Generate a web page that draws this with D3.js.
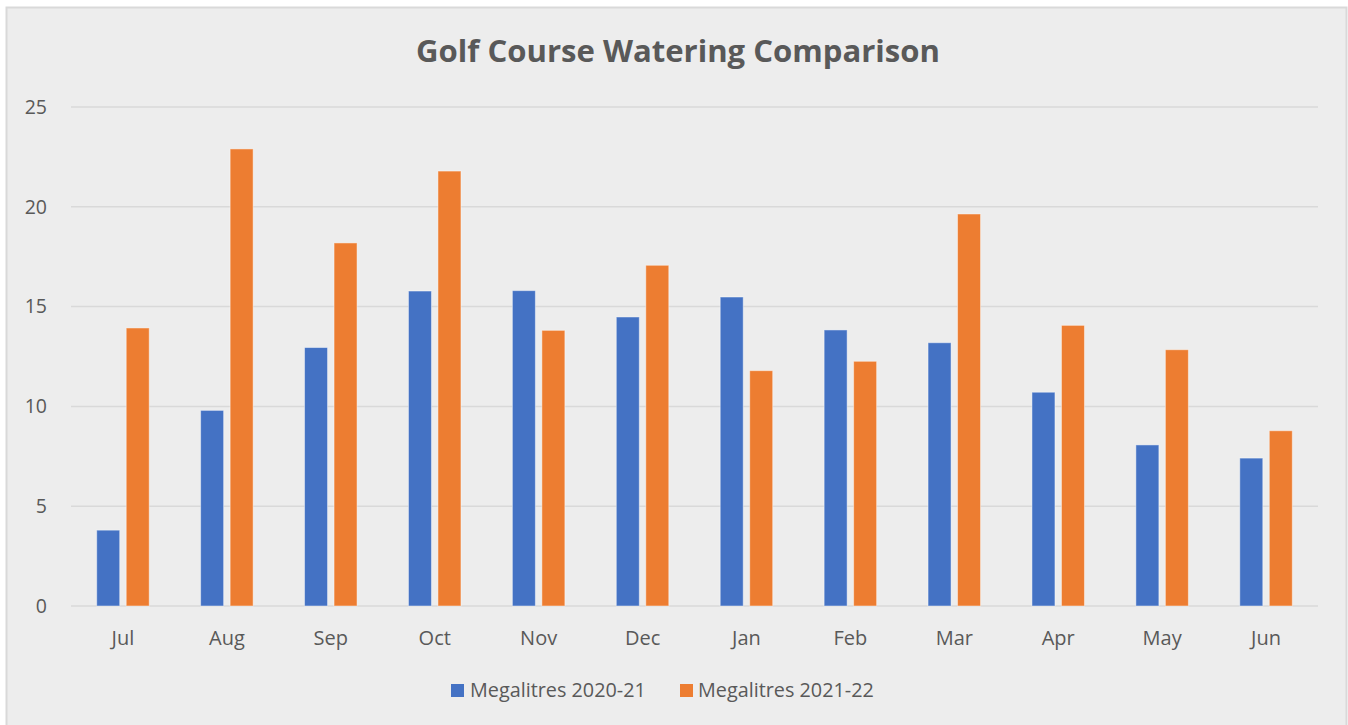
<!DOCTYPE html>
<html>
<head>
<meta charset="utf-8">
<script src="https://cdn.jsdelivr.net/npm/d3@7/dist/d3.min.js"></script>
<style>
  html, body { margin: 0; padding: 0; background: #ffffff; }
  svg { display: block; }
  text { font-family: "Open Sans", "Liberation Sans", sans-serif; fill: #595959; }
</style>
</head>
<body>
<svg id="chart" width="1348" height="725"></svg>
<script>
// Monthly golf course watering, megalitres
const months = ["Jul", "Aug", "Sep", "Oct", "Nov", "Dec", "Jan", "Feb", "Mar", "Apr", "May", "Jun"];
const seriesNames = ["Megalitres 2020-21", "Megalitres 2021-22"];
const megalitres2020_21 = [3.8, 9.8, 12.95, 15.78, 15.8, 14.48, 15.48, 13.83, 13.19, 10.71, 8.07, 7.41];
const megalitres2021_22 = [13.93, 22.9, 18.19, 21.79, 13.81, 17.07, 11.79, 12.26, 19.64, 14.06, 12.84, 8.78];
const yTicks = [0, 5, 10, 15, 20, 25];
const colors = ["#4472c4", "#ed7d31"];

const svg = d3.select("#chart");

// Chart area panel
svg.append("rect")
  .attr("x", 6.5).attr("y", 7.5)
  .attr("width", 1340).attr("height", 730)
  .attr("fill", "#ededed")
  .attr("stroke", "#d9d9d9").attr("stroke-width", 2);

const plot = { left: 71, right: 1318, top: 107, bottom: 606 };

const x = d3.scaleBand()
  .domain(months)
  .range([plot.left, plot.right])
  .paddingInner(0).paddingOuter(0);

const y = d3.scaleLinear()
  .domain([0, 25])
  .range([plot.bottom, plot.top]);

const barW = 23, barGap = 6.5;
const sub = d3.scaleOrdinal().domain([0, 1])
  .range([-(barW + barGap) / 2 - barW / 2, (barW + barGap) / 2 - barW / 2]);

// Gridlines
svg.append("g")
  .selectAll("line")
  .data(yTicks)
  .join("line")
  .attr("x1", plot.left).attr("x2", plot.right)
  .attr("y1", d => y(d)).attr("y2", d => y(d))
  .attr("stroke", "#d9d9d9").attr("stroke-width", 1.5);

// Y axis labels
const yAxis = d3.axisLeft(y).tickValues(yTicks).tickSize(0).tickPadding(0);
const gy = svg.append("g").attr("transform", `translate(${plot.left - 24},0)`).call(yAxis);
gy.select(".domain").remove();
gy.selectAll("text")
  .attr("font-size", 19.5)
  .attr("fill", "#595959")
  .attr("font-family", "'Open Sans', 'Liberation Sans', sans-serif");

// X axis labels
const xAxis = d3.axisBottom(x).tickSize(0).tickPadding(0);
const gx = svg.append("g").attr("transform", `translate(0,${plot.bottom + 25})`).call(xAxis);
gx.select(".domain").remove();
gx.selectAll("text")
  .attr("font-size", 20)
  .attr("fill", "#595959")
  .attr("font-family", "'Open Sans', 'Liberation Sans', sans-serif");

// Bars
const data = months.map((m, i) => ({ month: m, values: [megalitres2020_21[i], megalitres2021_22[i]] }));
const groups = svg.append("g").selectAll("g")
  .data(data)
  .join("g")
  .attr("transform", d => `translate(${x(d.month) + x.bandwidth() / 2},0)`);

groups.selectAll("rect")
  .data(d => d.values.map((v, s) => ({ v, s })))
  .join("rect")
  .attr("x", d => sub(d.s))
  .attr("width", barW)
  .attr("y", d => y(d.v))
  .attr("height", d => y(0) - y(d.v))
  .attr("fill", d => colors[d.s])
  .attr("stroke", "rgba(255,255,255,0.45)")
  .attr("stroke-width", 1);

// Title, sized to its set width
const title = svg.append("text")
  .attr("x", 678).attr("y", 62)
  .attr("text-anchor", "middle")
  .attr("font-weight", "bold")
  .attr("font-size", 28)
  .attr("fill", "#595959")
  .text("Golf Course Watering Comparison");
const tw = title.node().getComputedTextLength();
title.attr("font-size", 28 * 524 / tw);

// Legend
const legendItems = [
  { name: seriesNames[0], color: colors[0], sx: 451, tx: 470 },
  { name: seriesNames[1], color: colors[1], sx: 680, tx: 698 }
];
const lg = svg.append("g");
legendItems.forEach(it => {
  lg.append("rect")
    .attr("x", it.sx).attr("y", 684)
    .attr("width", 13).attr("height", 13)
    .attr("fill", it.color);
  const t = lg.append("text")
    .attr("x", it.tx).attr("y", 697)
    .attr("font-size", 18)
    .attr("fill", "#595959")
    .text(it.name);
  const w = t.node().getComputedTextLength();
  t.attr("font-size", 18 * 176 / w);
});
</script>
</body>
</html>
